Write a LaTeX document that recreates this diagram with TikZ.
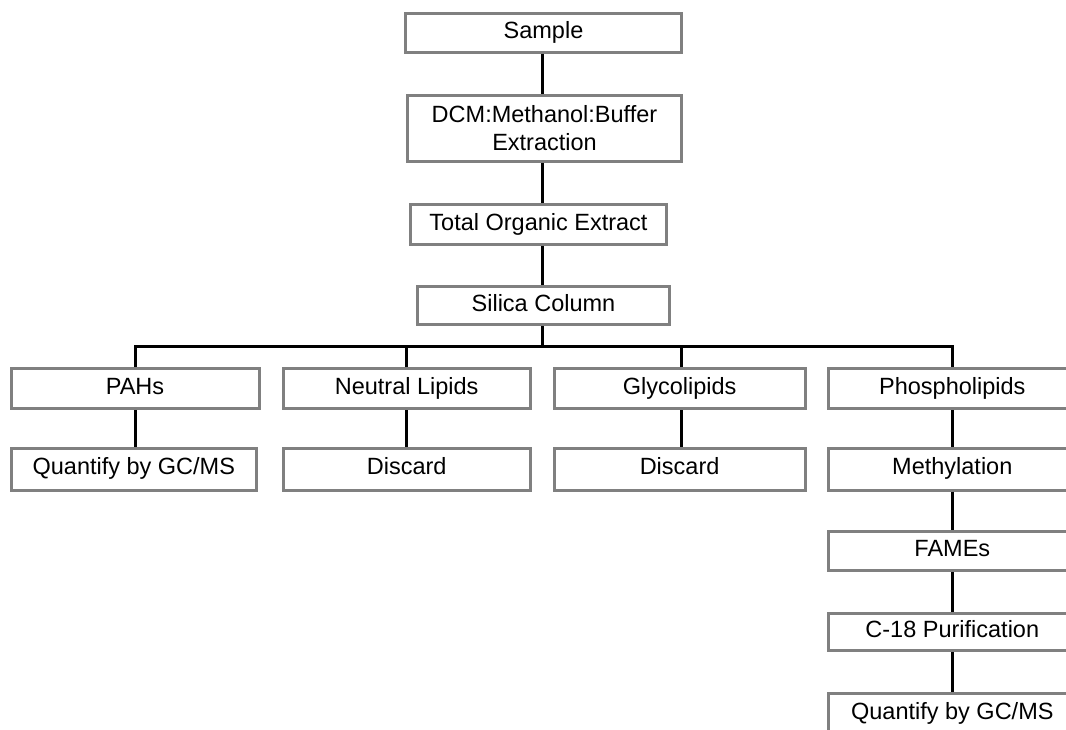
\documentclass[tikz,border=0pt]{standalone}
\usepackage{fontspec}
\setmainfont{Liberation Sans}

\begin{document}
\begin{tikzpicture}[x=1pt,y=-1pt,
    box/.style={draw=gray,line width=3pt,fill=white,inner sep=0pt,
      text height=16.5pt,text depth=5pt,
      font=\fontsize{23.5}{28}\selectfont,align=center},
    link/.style={line width=3pt}]
    \useasboundingbox (0,0) rectangle (1066,730);
    \clip (0,0) rectangle (1066,730);
    % main column
    \node[box,minimum width=276pt,minimum height=39pt] (sample) at (543.5,33) {Sample};
    \node[box,text height=,text depth=,minimum width=274pt,minimum height=66pt] (dcm) at (544.5,128.5)
      {DCM:Methanol:Buffer\\Extraction};
    \node[box,minimum width=256pt,minimum height=40pt] (toe) at (538.5,224.5) {Total Organic Extract};
    \node[box,minimum width=252pt,minimum height=38pt] (silica) at (543.5,305.5) {Silica Column};
    % fractions
    \node[box,minimum width=248pt,minimum height=40pt] (pahs) at (135,388.5) {PAHs};
    \node[box,minimum width=247pt,minimum height=40pt] (neutral) at (406.7,388.5) {Neutral Lipids};
    \node[box,minimum width=251pt,minimum height=40pt] (glyco) at (679.6,388.5) {Glycolipids};
    \node[box,minimum width=248pt,minimum height=40pt] (phospho) at (952.3,388.5) {Phospholipids};
    \node[box,minimum width=245pt,minimum height=42pt] (quantA) at (133.8,469) {Quantify by GC/MS};
    \node[box,minimum width=247pt,minimum height=42pt] (discardA) at (406.7,469) {Discard};
    \node[box,minimum width=251pt,minimum height=42pt] (discardB) at (679.6,469) {Discard};
    \node[box,minimum width=248pt,minimum height=42pt] (methyl) at (952.3,469) {Methylation};
    \node[box,minimum width=248pt,minimum height=39pt] (fames) at (952.3,551) {FAMEs};
    \node[box,minimum width=248pt,minimum height=37pt] (cpurif) at (952.3,632) {C-18 Purification};
    \node[box,minimum width=248pt,minimum height=40pt] (quantB) at (952.3,713.5) {Quantify by GC/MS};
    % connectors
    \coordinate (spine) at (542,0);
    \coordinate (bar) at (542,346);
    \draw[link] (spine |- sample.south) -- (spine |- dcm.north);
    \draw[link] (spine |- dcm.south) -- (spine |- toe.north);
    \draw[link] (spine |- toe.south) -- (spine |- silica.north);
    \draw[link] (spine |- silica.south) -- (bar);
    \draw[link] (pahs.north) |- (bar) -| (phospho.north);
    \draw[link] (neutral.north) -- (neutral.north |- bar);
    \draw[link] (681,0 |- glyco.north) -- (681,0 |- bar);
    \draw[link] (pahs.south) -- (pahs.south |- quantA.north);
    \draw[link] (neutral.south) -- (discardA.north);
    \draw[link] (681,0 |- glyco.south) -- (681,0 |- discardB.north);
    \draw[link] (phospho) -- (methyl);
    \draw[link] (methyl) -- (fames);
    \draw[link] (fames) -- (cpurif);
    \draw[link] (cpurif) -- (quantB);
\end{tikzpicture}
\end{document}
